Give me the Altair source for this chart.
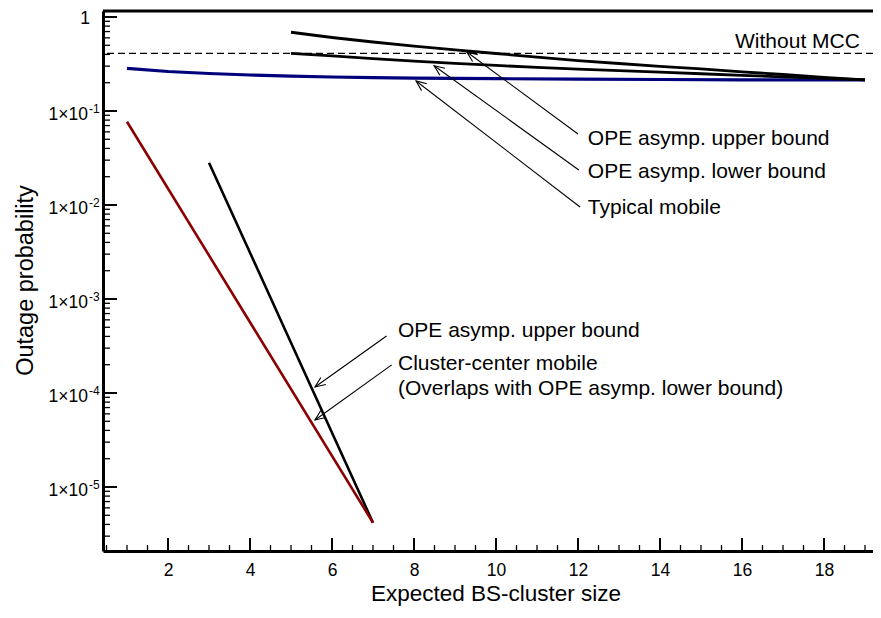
import math
import altair as alt
import pandas as pd

# ---------------- data ----------------
# OPE asymptotic upper bound (typical mobile)
upper_x = [5, 6, 7, 8, 9, 10, 11, 12, 13, 14, 15, 16, 17, 18, 19]
upper_y = [0.688, 0.605, 0.542, 0.491, 0.446, 0.409, 0.375, 0.344, 0.320,
           0.299, 0.280, 0.261, 0.2445, 0.228, 0.2138]
# OPE asymptotic lower bound (typical mobile)
lower_x = [5, 6, 7, 8, 9, 10, 11, 12, 13, 14, 15, 16, 17, 18, 19]
lower_y = [0.411, 0.385, 0.361, 0.340, 0.3217, 0.3055, 0.291, 0.2786, 0.2684,
           0.2588, 0.2489, 0.2398, 0.2306, 0.2222, 0.2138]
# Typical mobile
typ_x = [1, 2, 3, 4, 5, 6, 7, 8, 10, 12, 14, 16, 19]
typ_y = [0.2846, 0.2632, 0.2506, 0.2415, 0.2346, 0.2300, 0.2266, 0.2239,
         0.2207, 0.2180, 0.2164, 0.2148, 0.2138]
# Cluster-center mobile
cc_x = [1, 4, 7]
cc_y = [0.0769, 5.66e-4, 4.17e-6]
# OPE asymptotic upper bound (cluster-center mobile)
ccub_x = [3, 5, 7]
ccub_y = [0.0282, 3.43e-4, 4.17e-6]
# Without MCC level
no_mcc = 0.41

# axis ticks
x_major = [2, 4, 6, 8, 10, 12, 14, 16, 18]
x_minor = [0.5, 1, 1.5, 2.5, 3, 3.5, 4.5, 5, 5.5, 6.5, 7, 7.5, 8.5, 9, 9.5,
           10.5, 11, 11.5, 12.5, 13, 13.5, 14.5, 15, 15.5, 16.5, 17, 17.5,
           18.5, 19]
y_major = [1, 1e-1, 1e-2, 1e-3, 1e-4, 1e-5]
y_exp_vals = [1e-1, 1e-2, 1e-3, 1e-4, 1e-5]
y_exp_text = ["-1", "-2", "-3", "-4", "-5"]

# annotations (data coordinates)
ann_text = ["Without MCC", "OPE asymp. upper bound", "OPE asymp. lower bound",
            "Typical mobile", "OPE asymp. upper bound", "Cluster-center mobile",
            "(Overlaps with OPE asymp. lower bound)"]
ann_x = [15.83, 12.24, 12.24, 12.24, 7.61, 7.61, 7.61]
ann_y = [0.468, 0.04348, 0.01938, 0.00802, 3.94e-4, 1.757e-4, 9.52e-5]

# arrows: tip (x, y) and tail (x2, y2)
arr_x = [9.29, 8.49, 8.05, 5.585, 5.585]
arr_y = [0.424, 0.303, 0.2086, 1.16e-4, 5.16e-5]
arr_x2 = [12.0, 12.02, 12.05, 7.33, 7.456]
arr_y2 = [0.0569, 0.02357, 0.00952, 4.04e-4, 1.99e-4]

# ---------------- layout ----------------
W, H = 770, 540
X0, X1 = 0.4146, 19.195
YMIN, YMAX = 2.085e-6, 1.1582
FONT = "Liberation Sans"

y_minor = [k * 10.0 ** e for e in range(-6, 1) for k in range(2, 10)
           if YMIN < k * 10.0 ** e < YMAX]

xs = alt.Scale(domain=[X0, X1], nice=False, zero=False)
ys = alt.Scale(type="log", domain=[YMIN, YMAX], nice=False)
xaxis = alt.Axis(values=x_major, ticks=False, grid=False, domainWidth=3,
                 domainColor="black", labelFont=FONT, labelFontSize=17.5,
                 labelColor="black", labelBaseline="alphabetic",
                 labelPadding=24, labelFlush=False, labelOverlap=False,
                 title=None)
yaxis = alt.Axis(values=y_major, ticks=False, labels=False, grid=False,
                 domainWidth=3, domainColor="black", title=None)


def X(f):
    return alt.X(f, type="quantitative", scale=xs, axis=xaxis)


def Y(f):
    return alt.Y(f, type="quantitative", scale=ys, axis=yaxis)


def line_df(xv, yv):
    return pd.DataFrame({"x": xv, "y": yv})


# arrowhead angles from screen geometry
def sx(v):
    return (v - X0) / (X1 - X0) * W


def sy(v):
    return (math.log10(YMAX) - math.log10(v)) / (math.log10(YMAX) - math.log10(YMIN)) * H


angles = []
for a, b, c, d in zip(arr_x, arr_y, arr_x2, arr_y2):
    dx = sx(c) - sx(a)
    dy = sy(d) - sy(b)
    angles.append((-math.degrees(math.atan2(dx, dy))) % 360)

arrows = pd.DataFrame({"x": arr_x, "y": arr_y, "x2": arr_x2, "y2": arr_y2,
                       "angle": angles})

layers = []

# frame top
layers.append(alt.Chart(pd.DataFrame({"a": [0]})).mark_rule(
    color="black", strokeWidth=3).encode(
    x=alt.value(0), x2=alt.value(W), y=alt.value(0)))

# ticks
layers.append(alt.Chart(pd.DataFrame({"x": x_major})).mark_rule(
    color="black", strokeWidth=2).encode(
    x=X("x"), y=alt.value(H), y2=alt.value(H - 13)))
layers.append(alt.Chart(pd.DataFrame({"x": x_minor})).mark_rule(
    color="black", strokeWidth=1.3).encode(
    x=X("x"), y=alt.value(H), y2=alt.value(H - 6)))
layers.append(alt.Chart(pd.DataFrame({"y": y_major})).mark_rule(
    color="black", strokeWidth=2).encode(
    y=Y("y"), x=alt.value(0), x2=alt.value(14)))
layers.append(alt.Chart(pd.DataFrame({"y": y_minor})).mark_rule(
    color="black", strokeWidth=1.3).encode(
    y=Y("y"), x=alt.value(0), x2=alt.value(7)))

# y tick labels
layers.append(alt.Chart(pd.DataFrame({"y": [1], "t": ["1"]})).mark_text(
    align="right", baseline="alphabetic", fontSize=17.5, font=FONT, dy=7,
    color="black").encode(y=Y("y"), x=alt.value(-13), text="t"))
layers.append(alt.Chart(pd.DataFrame({"y": y_exp_vals, "t": ["1\u00d710"] * 5})).mark_text(
    align="right", baseline="alphabetic", fontSize=17.5, font=FONT, dy=9.5,
    color="black").encode(y=Y("y"), x=alt.value(-15), text="t"))
layers.append(alt.Chart(pd.DataFrame({"y": y_exp_vals, "t": y_exp_text})).mark_text(
    align="left", baseline="alphabetic", fontSize=12, font=FONT, dy=2.5,
    color="black").encode(y=Y("y"), x=alt.value(-14), text="t"))

# dashed "Without MCC"
layers.append(alt.Chart(pd.DataFrame({"y": [no_mcc]})).mark_rule(
    color="black", strokeWidth=1.3, strokeDash=[7, 4]).encode(y=Y("y")))

# curves
layers.append(alt.Chart(line_df(typ_x, typ_y)).mark_line(
    color="#00007a", strokeWidth=3.2).encode(x=X("x"), y=Y("y")))
layers.append(alt.Chart(line_df(lower_x, lower_y)).mark_line(
    color="black", strokeWidth=2.8).encode(x=X("x"), y=Y("y")))
layers.append(alt.Chart(line_df(upper_x, upper_y)).mark_line(
    color="black", strokeWidth=2.8).encode(x=X("x"), y=Y("y")))
layers.append(alt.Chart(line_df(ccub_x, ccub_y)).mark_line(
    color="black", strokeWidth=2.6).encode(x=X("x"), y=Y("y")))
layers.append(alt.Chart(line_df(cc_x, cc_y)).mark_line(
    color="#8b0000", strokeWidth=2.6).encode(x=X("x"), y=Y("y")))

# arrows
layers.append(alt.Chart(arrows).mark_rule(color="black", strokeWidth=1.1).encode(
    x=X("x"), y=Y("y"), x2="x2", y2="y2"))
layers.append(alt.Chart(arrows).mark_point(
    shape="M -0.42 1 L 0 0 L 0.42 1", filled=False, size=420,
    strokeWidth=1.1, color="black", opacity=1).encode(
    x=X("x"), y=Y("y"), angle=alt.Angle("angle:Q", scale=None)))

# annotation texts
layers.append(alt.Chart(pd.DataFrame({"x": ann_x, "y": ann_y, "t": ann_text})).mark_text(
    align="left", baseline="alphabetic", fontSize=21, font=FONT,
    color="black").encode(x=X("x"), y=Y("y"), text="t"))

# axis titles
layers.append(alt.Chart(pd.DataFrame({"t": ["Expected BS-cluster size"]})).mark_text(
    align="center", baseline="alphabetic", fontSize=22.5, font=FONT,
    color="black").encode(x=alt.value(393), y=alt.value(590), text="t"))
layers.append(alt.Chart(pd.DataFrame({"t": ["Outage probability"]})).mark_text(
    align="center", baseline="alphabetic", fontSize=23.5, font=FONT, angle=270,
    color="black").encode(x=alt.value(-70.3), y=alt.value(269.5), text="t"))

chart = alt.layer(*layers).properties(
    width=W, height=H,
    autosize=alt.AutoSizeParams(type="none"),
    padding={"left": 95, "top": 3, "right": 0, "bottom": 55},
).configure_view(stroke=None).configure(font=FONT)

chart.save("out.html", embed_options={"renderer": "svg", "actions": False})
